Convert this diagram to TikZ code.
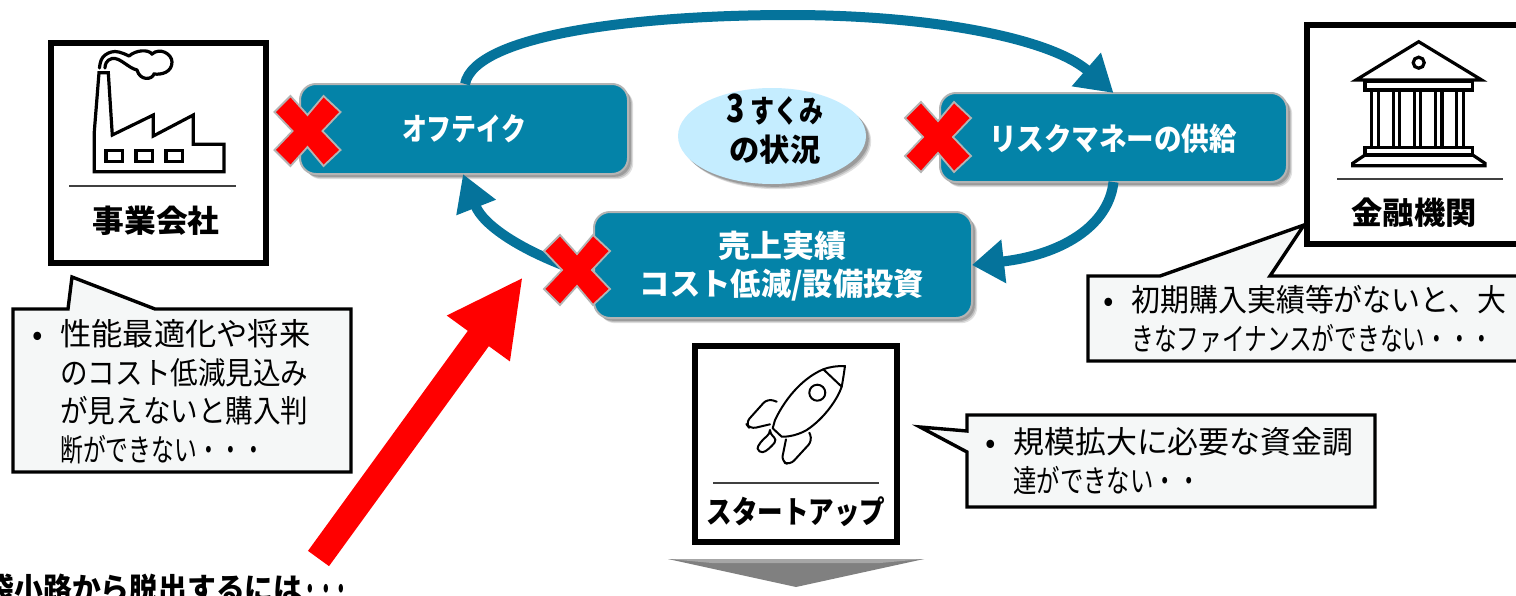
\documentclass[tikz,border=0pt]{standalone}
\usepackage{fontspec}
\usepackage{graphicx}
\setmainfont{Noto Sans CJK JP}
\usetikzlibrary{arrows.meta,shadows,calc,shapes.geometric}
\definecolor{tealbox}{HTML}{0483A8}
\definecolor{tealarc}{HTML}{05739B}
\definecolor{skyfill}{HTML}{C5EDFF}
\definecolor{notefill}{HTML}{F5F7F7}
\definecolor{edgegray}{HTML}{B4B4B4}
\newcommand\fitw[2]{\resizebox{\dimexpr #1pt/2\relax}{\height}{#2}}
\newcommand\bul{\llap{\makebox[23pt]{•}}}
\tikzset{
  softshadow/.style={
    general shadow={shadow xshift=2.6pt,shadow yshift=-2.6pt,fill=black,opacity=.12},
    general shadow={shadow xshift=2pt,shadow yshift=-2pt,fill=black,opacity=.15},
    general shadow={shadow xshift=1.4pt,shadow yshift=-1.4pt,fill=black,opacity=.18}},
  tealnode/.style={rectangle,rounded corners=8pt,fill=tealbox,draw=edgegray,line width=1pt,inner sep=0pt,outer sep=0pt,softshadow},
  whitelabel/.style={text=white,font=\fontsize{15.5}{19.4}\selectfont\bfseries,align=center,inner sep=0pt},
  blacklabel/.style={text=black,font=\fontsize{15.5}{19.2}\selectfont\bfseries,align=center,inner sep=0pt},
  actorbox/.style={rectangle,draw=black,fill=white,line width=3pt,inner sep=0pt,outer sep=0pt},
  rule/.style={line width=.6pt,draw=black!75},
  notebox/.style={draw=black,fill=notefill,line width=1.7pt,line join=miter},
  notetext/.style={text=black,font=\fontsize{15.5}{19.3}\selectfont,align=left,inner sep=0pt,anchor=north west},
  cyclearc/.style={draw=tealarc,line width=5pt},
  icon/.style={draw=black,line width=1.6pt,line join=miter},
  thinicon/.style={draw=black,line width=1pt,line join=round,line cap=round},
  crossmark/.style={fill=red,draw=edgegray,line width=.9pt,line join=miter},
}
\newcommand\crossat[2]{\path[crossmark,shift={(#1,#2)}] (-17,-35)--(0,-16)--(16,-35)--(33,-19)--(15,0)--(33,19)--(16,35)--(0,16)--(-17,35)--(-33,19)--(-15,0)--(-33,-19)--cycle;}
\begin{document}
\begin{tikzpicture}[x=0.5pt,y=-0.5pt]
\clip (0,0) rectangle (1516,595);
\fill[white] (0,0) rectangle (1516,595);

% actor boxes
\node[actorbox,minimum width=107.5pt,minimum height=110pt] (company) at (158.8,153) {};
\node[actorbox,minimum width=115pt,minimum height=109.5pt] (bank) at (1422,134.5) {};
\node[actorbox,minimum width=101pt,minimum height=98pt] (startup) at (796,444) {};
\draw[rule] (69,186) -- (236,186);
\draw[rule] (1337,179) -- (1503,179);
\draw[rule] (713,483) -- (879,483);
\node[blacklabel] (companylabel) at (156,221) {\fitw{127}{事業会社}};
\node[blacklabel] (banklabel) at (1414,213) {\fitw{125}{金融機関}};
\node[blacklabel] (startuplabel) at (796,512) {\fitw{179}{スタートアップ}};

% factory icon
\path[icon] (94.3,171.7)--(94.3,131.7)--(99,72.7)--(108.3,72.7)--(112.3,135)--(153.3,115)--(153.3,136)--(193.3,115)--(193.3,144.3)--(224,144.3)--(224,171.7)--cycle;
\path[icon] (106,150.7) rectangle (122.3,161.7) (136,150.7) rectangle (152.3,161.7) (166,150.7) rectangle (182.3,161.7);
\draw[icon,line cap=round] plot[smooth,tension=.7] coordinates {(99.5,68) (103,57) (115,51.5) (129,56)};
\draw[icon,line cap=round] (129,56) .. controls (136,50) and (148,49) .. (152,54) .. controls (160,47) and (172,54) .. (172,62) .. controls (172,72) and (162,75) .. (154,74) .. controls (152,80) and (140,81) .. (137,70);
\draw[icon,line cap=round] (137,70) .. controls (128,68) and (120,57) .. (112,58.5) .. controls (106,60) and (105,65) .. (105,68);

% bank icon
\path[icon,line join=miter] (1356,80)--(1418.7,41.7)--(1481.7,80)--cycle;
\draw[icon] (1418.7,62.7) circle [radius=5.5];
\path[icon] (1365,81.7) rectangle (1472.7,90);
\foreach \cx in {1375,1396.3,1417.5,1438.8,1460} {\path[icon] (\cx-3.2,90) rectangle (\cx+3.2,147.3);}
\path[icon] (1365,147.3) rectangle (1472.7,155);
\path[icon] (1365,155)--(1352.7,163.3)--(1352.7,165.7)--(1485,165.7)--(1485,163.3)--(1472.7,155)--cycle;

% rocket icon
\draw[thinicon] (845,366) .. controls (836,366) and (829,367) .. (823.3,369.3) .. controls (805,377) and (787,395) .. (775,420) -- (772.7,428.3) -- (781.7,436.7) .. controls (790,437) and (800,434) .. (806.7,430) .. controls (825,418) and (838,398) .. (841.7,386.7) .. controls (843,380) and (844,373) .. (845,366) -- cycle;
\draw[thinicon] (823.3,369.3) -- (841.7,386.7);
\draw[thinicon] (817.3,392.7) circle [radius=8];
\draw[thinicon,rounded corners=3pt] (776.7,401.7) -- (767.5,398.5) -- (745.5,423) -- (750,429) -- (770,424.3);
\draw[thinicon,rounded corners=3pt] (809.3,432.7) -- (812.5,440.5) -- (790,465) -- (781.5,461.5) -- (786,439.3);
\draw[thinicon,rounded corners=2pt] (770,434) -- (777,439.5) .. controls (772,446) and (766,452) .. (758.5,452.5) .. controls (757,446) and (763,439) .. (770,434) -- cycle;

% process boxes
\node[tealnode,minimum width=164pt,minimum height=45pt] (off) at (464,129) {};
\node[tealnode,minimum width=173.5pt,minimum height=44.5pt] (risk) at (1113.5,137.5) {};
\node[tealnode,minimum width=189pt,minimum height=53pt] (sales) at (783,265) {};
\node[ellipse,fill=skyfill,minimum width=94pt,minimum height=48pt,inner sep=0pt,softshadow,draw=none] (state) at (772,136) {};

% cycle arrows
\draw[cyclearc,-{Triangle[length=18pt,width=21pt]}] ([xshift=.5pt]off.north) .. controls +(10,-50) and (640,15) .. (790,15) .. controls (930,15) and (1050,38) .. (risk.north);
\draw[cyclearc,-{Triangle[length=16pt,width=21pt]}] (risk.south) .. controls +(-5,45) and (1060,255) .. (sales.east);
\draw[cyclearc,-{Triangle[length=18pt,width=20pt]}] ([xshift=-9pt,yshift=-2.5pt]sales.west) .. controls (520,250) and (483,225) .. ([xshift=-.5pt]off.south);

% labels
\node[whitelabel] (offlabel) at (464,129) {\fitw{124}{オフテイク}};
\node[whitelabel] (risklabel) at (1113,139) {\fitw{248}{リスクマネーの供給}};
\node[whitelabel] (saleslabel) at (782,266) {\fitw{128}{売上実績}\\\fitw{284}{コスト低減/設備投資}};
\node[blacklabel] (statelabel) at (775,129) {\fitw{97}{\scalebox{1.25}{3} すくみ}\\\fitw{91}{の状況}};

% crosses
\crossat{307.5}{131}
\crossat{938}{137}
\crossat{577}{270}

% callouts
\path[notebox] (13,309) -- (68,309) -- (72,277) -- (155,309) -- (351,309) -- (351,472) -- (13,472) -- cycle;
\path[notebox] (1088,276) -- (1160,276) -- (1304,225) -- (1270,276) -- (1530,276) -- (1530,361) -- (1088,361) -- cycle;
\path[notebox] (967,415) -- (1375,415) -- (1375,507) -- (967,507) -- (967,452) -- (920,427) -- (967,431) -- cycle;
\node[notetext] (note1) at (60,319) {\bul\fitw{250}{性能最適化や将来}\\\fitw{248}{のコスト低減見込み}\\\fitw{248}{が見えないと購入判}\\\fitw{205}{断ができない・・・}};
\node[notetext] (note2) at (1131,285) {\bul\fitw{375}{初期購入実績等がないと、大}\\\fitw{362}{きなファイナンスができない・・・}};
\node[notetext] (note3) at (1013,427) {\bul\fitw{340}{規模拡大に必要な資金調}\\\fitw{187}{達ができない・・}};

% big red arrow
\coordinate (redtail) at (318.5,558.5);
\coordinate (redtip) at (523,277);
\draw[red,line width=13pt,-{Triangle[length=38pt,width=36pt]}] (redtail) -- (redtip);

% down triangle
\fill[black!50] (668,559) -- (924,559) -- (796,587) -- cycle;
\fill[black!35] (668,559) -- (924,559) -- (880,563) -- (712,563) -- cycle;

% bottom text
\node[blacklabel,anchor=east] (exit) at (350,589) {\fitw{317}{袋小路から脱出するには}\fitw{47}{・・・}};
\end{tikzpicture}
\end{document}
